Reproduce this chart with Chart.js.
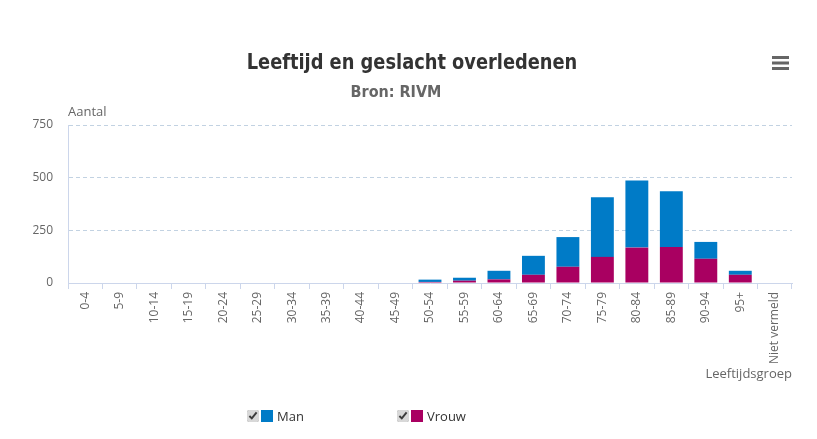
<!DOCTYPE html>
<html>
<head>
<meta charset="utf-8">
<script src="https://cdn.jsdelivr.net/npm/chart.js@4/dist/chart.umd.min.js"></script>
<style>
  body { margin: 0; background: #fff; }
  #wrap { position: relative; width: 817px; height: 439px; }
  #legend { position: absolute; left: 0; top: 407px; width: 817px; font: 13px "Open Sans", sans-serif; color: #333; }
  .item { position: absolute; top: 0; display: flex; align-items: center; cursor: pointer; }
  .item input { width: 12px; height: 12px; margin: 0 2px 0 0; accent-color: #d8d8d8; }
  .swatch { width: 12px; height: 12px; margin-right: 4px; }
</style>
</head>
<body>
<div id="wrap">
  <canvas id="chart" width="817" height="439"></canvas>
  <div id="legend"></div>
</div>
<script>
// gegevens
const leeftijden = ['0-4', '5-9', '10-14', '15-19', '20-24', '25-29', '30-34', '35-39', '40-44', '45-49',
  '50-54', '55-59', '60-64', '65-69', '70-74', '75-79', '80-84', '85-89', '90-94', '95+', 'Niet vermeld'];
const man   = [0, 0, 0, 0, 0, 0, 0, 0, 0, 0, 11, 14, 41, 90, 141, 283, 319, 264, 80, 19, 0];
const vrouw = [0, 0, 0, 0, 0, 0, 0, 0, 0, 0, 5, 11, 17, 39, 77, 124, 168, 171, 115, 39, 0];
const yTicks = [0, 250, 500, 750];

const kleurMan = '#007bc7';
const kleurVrouw = '#a90061';

// titels, aslabels en menu-icoon
const extraTekst = {
  id: 'extraTekst',
  afterDraw(chart) {
    const ctx = chart.ctx;
    const area = chart.chartArea;
    ctx.save();
    ctx.textAlign = 'center';
    ctx.textBaseline = 'middle';
    ctx.fillStyle = '#333';
    ctx.font = 'bold 22px "DejaVu Sans Condensed", sans-serif';
    // titel iets smaller maken, lijkt meer op het origineel
    ctx.save();
    ctx.translate(412, 63);
    ctx.scale(0.9, 1);
    ctx.fillText('Leeftijd en geslacht overledenen', 0, 0);
    ctx.restore();
    ctx.fillStyle = '#666';
    ctx.font = 'bold 16px "DejaVu Sans Condensed", sans-serif';
    ctx.fillText('Bron: RIVM', 396, 93);

    ctx.font = '13px "Open Sans", sans-serif';
    ctx.textAlign = 'left';
    ctx.fillText('Aantal', area.left, 112);
    ctx.textAlign = 'right';
    ctx.fillText('Leeftijdsgroep', area.right, 374);

    // hamburger menu
    ctx.fillStyle = '#666';
    for (let i = 0; i < 3; i++) {
      ctx.fillRect(772, 56 + i * 5.5, 17, 3);
    }
    ctx.restore();
  }
};

const chart = new Chart(document.getElementById('chart'), {
  type: 'bar',
  data: {
    labels: leeftijden,
    datasets: [
      { label: 'Vrouw', data: vrouw, backgroundColor: kleurVrouw },
      { label: 'Man', data: man, backgroundColor: kleurMan }
    ]
  },
  options: {
    responsive: false,
    animation: false,
    devicePixelRatio: 1,
    layout: { padding: { top: 125, right: 25, left: 0, bottom: 76 } },
    categoryPercentage: 0.8,
    barPercentage: 0.83,
    plugins: {
      legend: { display: false },
      title: { display: false },
      tooltip: { enabled: true }
    },
    scales: {
      x: {
        stacked: true,
        afterFit(scale) { scale.height = 80; },
        grid: { offset: true, drawOnChartArea: false, drawTicks: true, tickLength: 6, color: '#ccd6eb' },
        border: { color: '#ccd6eb' },
        ticks: {
          autoSkip: false,
          minRotation: 90,
          maxRotation: 90,
          padding: 3,
          color: '#666',
          font: { family: '"Open Sans", sans-serif', size: 12 }
        }
      },
      y: {
        stacked: true,
        min: 0,
        max: 750,
        afterFit(scale) { scale.width = 68; },
        afterBuildTicks(scale) { scale.ticks = yTicks.map(v => ({ value: v })); },
        grid: { color: '#c2d2e2', drawTicks: false },
        border: { color: '#ccd6eb', dash: [4, 3] },
        ticks: {
          padding: 15,
          color: '#666',
          font: { family: '"Open Sans", sans-serif', size: 12 }
        }
      }
    }
  },
  plugins: [extraTekst]
});

// legenda met vinkjes, Man eerst
const legend = document.getElementById('legend');
const legendItems = [
  { label: 'Man', kleur: kleurMan, index: 1, x: 247 },
  { label: 'Vrouw', kleur: kleurVrouw, index: 0, x: 397 }
];
legendItems.forEach(it => {
  const el = document.createElement('label');
  el.className = 'item';
  el.style.left = it.x + 'px';
  el.innerHTML = '<input type="checkbox" checked><span class="swatch" style="background:' + it.kleur + '"></span>' + it.label;
  el.querySelector('input').addEventListener('change', e => {
    chart.setDatasetVisibility(it.index, e.target.checked);
    chart.update();
  });
  legend.appendChild(el);
});
</script>
</body>
</html>
